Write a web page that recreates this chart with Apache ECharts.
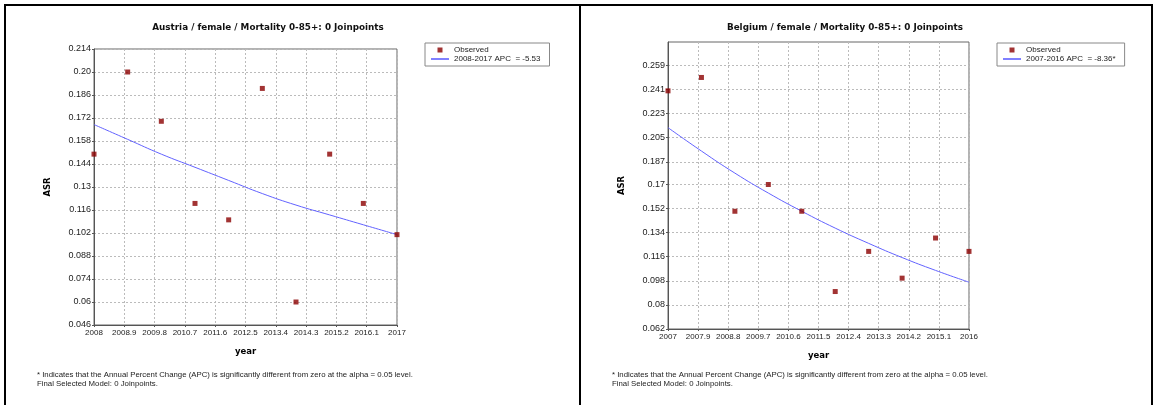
<!DOCTYPE html>
<html>
<head>
<meta charset="utf-8">
<script src="https://cdn.jsdelivr.net/npm/echarts@6/dist/echarts.min.js"></script>
<style>
  html, body { margin: 0; padding: 0; background: #fff; }
  #chart { width: 1156px; height: 405px; }
</style>
</head>
<body>
<div id="chart"></div>
<script>
// 左图: Austria
var atYears = [2008, 2009, 2010, 2011, 2012, 2013, 2014, 2015, 2016, 2017];
var atObserved = [0.150, 0.200, 0.170, 0.120, 0.110, 0.190, 0.060, 0.150, 0.120, 0.101];
var atFitted = [0.168, 0.159, 0.150, 0.142, 0.134, 0.126, 0.119, 0.113, 0.107, 0.101];
var atXLabels = ['2008', '2008.9', '2009.8', '2010.7', '2011.6', '2012.5', '2013.4', '2014.3', '2015.2', '2016.1', '2017'];
var atYLabels = ['0.046', '0.06', '0.074', '0.088', '0.102', '0.116', '0.13', '0.144', '0.158', '0.172', '0.186', '0.20', '0.214'];

// 右图: Belgium
var beYears = [2007, 2008, 2009, 2010, 2011, 2012, 2013, 2014, 2015, 2016];
var beObserved = [0.240, 0.250, 0.150, 0.170, 0.150, 0.090, 0.120, 0.100, 0.130, 0.120];
var beFitted = [0.2125, 0.195, 0.1785, 0.1636, 0.150, 0.1374, 0.126, 0.1154, 0.1058, 0.097];
var beXLabels = ['2007', '2007.9', '2008.8', '2009.7', '2010.6', '2011.5', '2012.4', '2013.3', '2014.2', '2015.1', '2016'];
var beYLabels = ['0.062', '0.08', '0.098', '0.116', '0.134', '0.152', '0.17', '0.187', '0.205', '0.223', '0.241', '0.259'];

var titles = ['Austria / female / Mortality 0-85+: 0 Joinpoints', 'Belgium / female / Mortality 0-85+: 0 Joinpoints'];
var fitNames = ['2008-2017 APC  = -5.53', '2007-2016 APC  = -8.36*'];
var noteText = '* Indicates that the Annual Percent Change (APC) is significantly different from zero at the alpha = 0.05 level.\nFinal Selected Model: 0 Joinpoints.';

var chart = echarts.init(document.getElementById('chart'));
var font = 'Liberation Sans, Arial, sans-serif';
var boldFont = 'DejaVu Sans, Verdana, sans-serif';

function pick(labels) { // 刻度值 -> 原图文字
	return function (v) {
		var best = 0;
		for (var i = 1; i < labels.length; i++) {
			if (Math.abs(Number(labels[i]) - v) < Math.abs(Number(labels[best]) - v)) best = i;
		}
		return labels[best];
	};
}

function nums(labels) {
	return labels.map(Number);
}

function pairs(xs, ys) {
	return xs.map(function (x, i) { return [x, ys[i]]; });
}

function xAxisOf(idx, labels) {
	var vals = nums(labels);
	return {
		type: 'value', gridIndex: idx,
		min: vals[0], max: vals[vals.length - 1],
		name: 'year', nameLocation: 'middle', nameGap: 22,
		nameTextStyle: { fontFamily: boldFont, fontWeight: 'bold', fontSize: 8.5, color: '#000' },
		axisLine: { lineStyle: { color: '#555' } },
		axisTick: { show: true, length: 2, customValues: vals, lineStyle: { color: '#555' } },
		axisLabel: { customValues: vals, formatter: pick(labels), fontFamily: font, fontSize: 8, color: '#222', margin: 4, hideOverlap: false },
		splitLine: { show: true, lineStyle: { color: '#bbb', type: [2, 2] } }
	};
}

function yAxisOf(idx, labels, max) {
	var vals = nums(labels);
	return {
		type: 'value', gridIndex: idx,
		min: vals[0], max: max,
		name: 'ASR', nameLocation: 'middle', nameGap: 42, nameRotate: 90,
		nameTextStyle: { fontFamily: boldFont, fontWeight: 'bold', fontSize: 8.5, color: '#000' },
		axisLine: { show: true, lineStyle: { color: '#555' } },
		axisTick: { show: true, length: 2, customValues: vals, lineStyle: { color: '#555' } },
		axisLabel: { customValues: vals, formatter: pick(labels), fontFamily: font, fontSize: 9, color: '#222', margin: 3, hideOverlap: false },
		splitLine: { show: true, lineStyle: { color: '#bbb', type: [2, 2] } }
	};
}

function legendOf(idx, left) {
	return {
		orient: 'vertical', left: left, top: 43,
		borderColor: '#888', borderWidth: 1,
		padding: [3, 9, 3, 6], itemGap: 1,
		itemWidth: 18, itemHeight: 5, itemTextGap: 3,
		symbolKeepAspect: true,
		textStyle: { fontFamily: font, fontSize: 8, color: '#222' },
		data: [
			{ name: 'Observed', icon: 'path://M0,0L4,0L4,4L0,4Z', itemStyle: { color: '#8b0000' } },
			{ name: fitNames[idx], icon: 'path://M0,2L18,2L18,3L0,3Z', itemStyle: { color: '#0000ff' } }
		]
	};
}

var option = {
	animation: false,
	title: [
		{ text: titles[0], left: 263, top: 18, textAlign: 'center', textStyle: { fontFamily: boldFont, fontWeight: 'bold', fontSize: 8.8, color: '#111' } },
		{ text: titles[1], left: 840, top: 18, textAlign: 'center', textStyle: { fontFamily: boldFont, fontWeight: 'bold', fontSize: 8.8, color: '#111' } }
	],
	legend: [legendOf(0, 425), legendOf(1, 997)],
	grid: [
		{ left: 94, right: 759, top: 49, bottom: 80, show: true, borderColor: '#666', borderWidth: 1 },
		{ left: 668, right: 187, top: 42, bottom: 76, show: true, borderColor: '#666', borderWidth: 1 }
	],
	xAxis: [xAxisOf(0, atXLabels), xAxisOf(1, beXLabels)],
	yAxis: [yAxisOf(0, atYLabels, 0.214), yAxisOf(1, beYLabels, 0.2765)],
	series: [
		{ type: 'line', name: fitNames[0], xAxisIndex: 0, yAxisIndex: 0, data: pairs(atYears, atFitted), smooth: true, symbol: 'none', lineStyle: { color: '#6262ff', width: 1 }, itemStyle: { color: '#0000ff' }, z: 2 },
		{ type: 'scatter', name: 'Observed', xAxisIndex: 0, yAxisIndex: 0, data: pairs(atYears, atObserved), symbol: 'rect', symbolSize: 5, itemStyle: { color: '#8b0000' }, z: 3 },
		{ type: 'line', name: fitNames[1], xAxisIndex: 1, yAxisIndex: 1, data: pairs(beYears, beFitted), smooth: true, symbol: 'none', lineStyle: { color: '#6262ff', width: 1 }, itemStyle: { color: '#0000ff' }, z: 2 },
		{ type: 'scatter', name: 'Observed', xAxisIndex: 1, yAxisIndex: 1, data: pairs(beYears, beObserved), symbol: 'rect', symbolSize: 5, itemStyle: { color: '#8b0000' }, z: 3 }
	],
	graphic: [
		// 外框
		{ type: 'line', shape: { x1: 4, y1: 5, x2: 1153, y2: 5 }, style: { stroke: '#000', lineWidth: 2 } },
		{ type: 'line', shape: { x1: 5, y1: 5, x2: 5, y2: 405 }, style: { stroke: '#000', lineWidth: 2 } },
		{ type: 'line', shape: { x1: 580, y1: 5, x2: 580, y2: 405 }, style: { stroke: '#000', lineWidth: 2 } },
		{ type: 'line', shape: { x1: 1152, y1: 5, x2: 1152, y2: 405 }, style: { stroke: '#000', lineWidth: 2 } },
		{ type: 'text', left: 37, top: 371, style: { text: noteText, fontFamily: font, fontSize: 7.8, lineHeight: 8.5, fill: '#222' } },
		{ type: 'text', left: 612, top: 371, style: { text: noteText, fontFamily: font, fontSize: 7.8, lineHeight: 8.5, fill: '#222' } }
	]
};

chart.setOption(option);
</script>
</body>
</html>
